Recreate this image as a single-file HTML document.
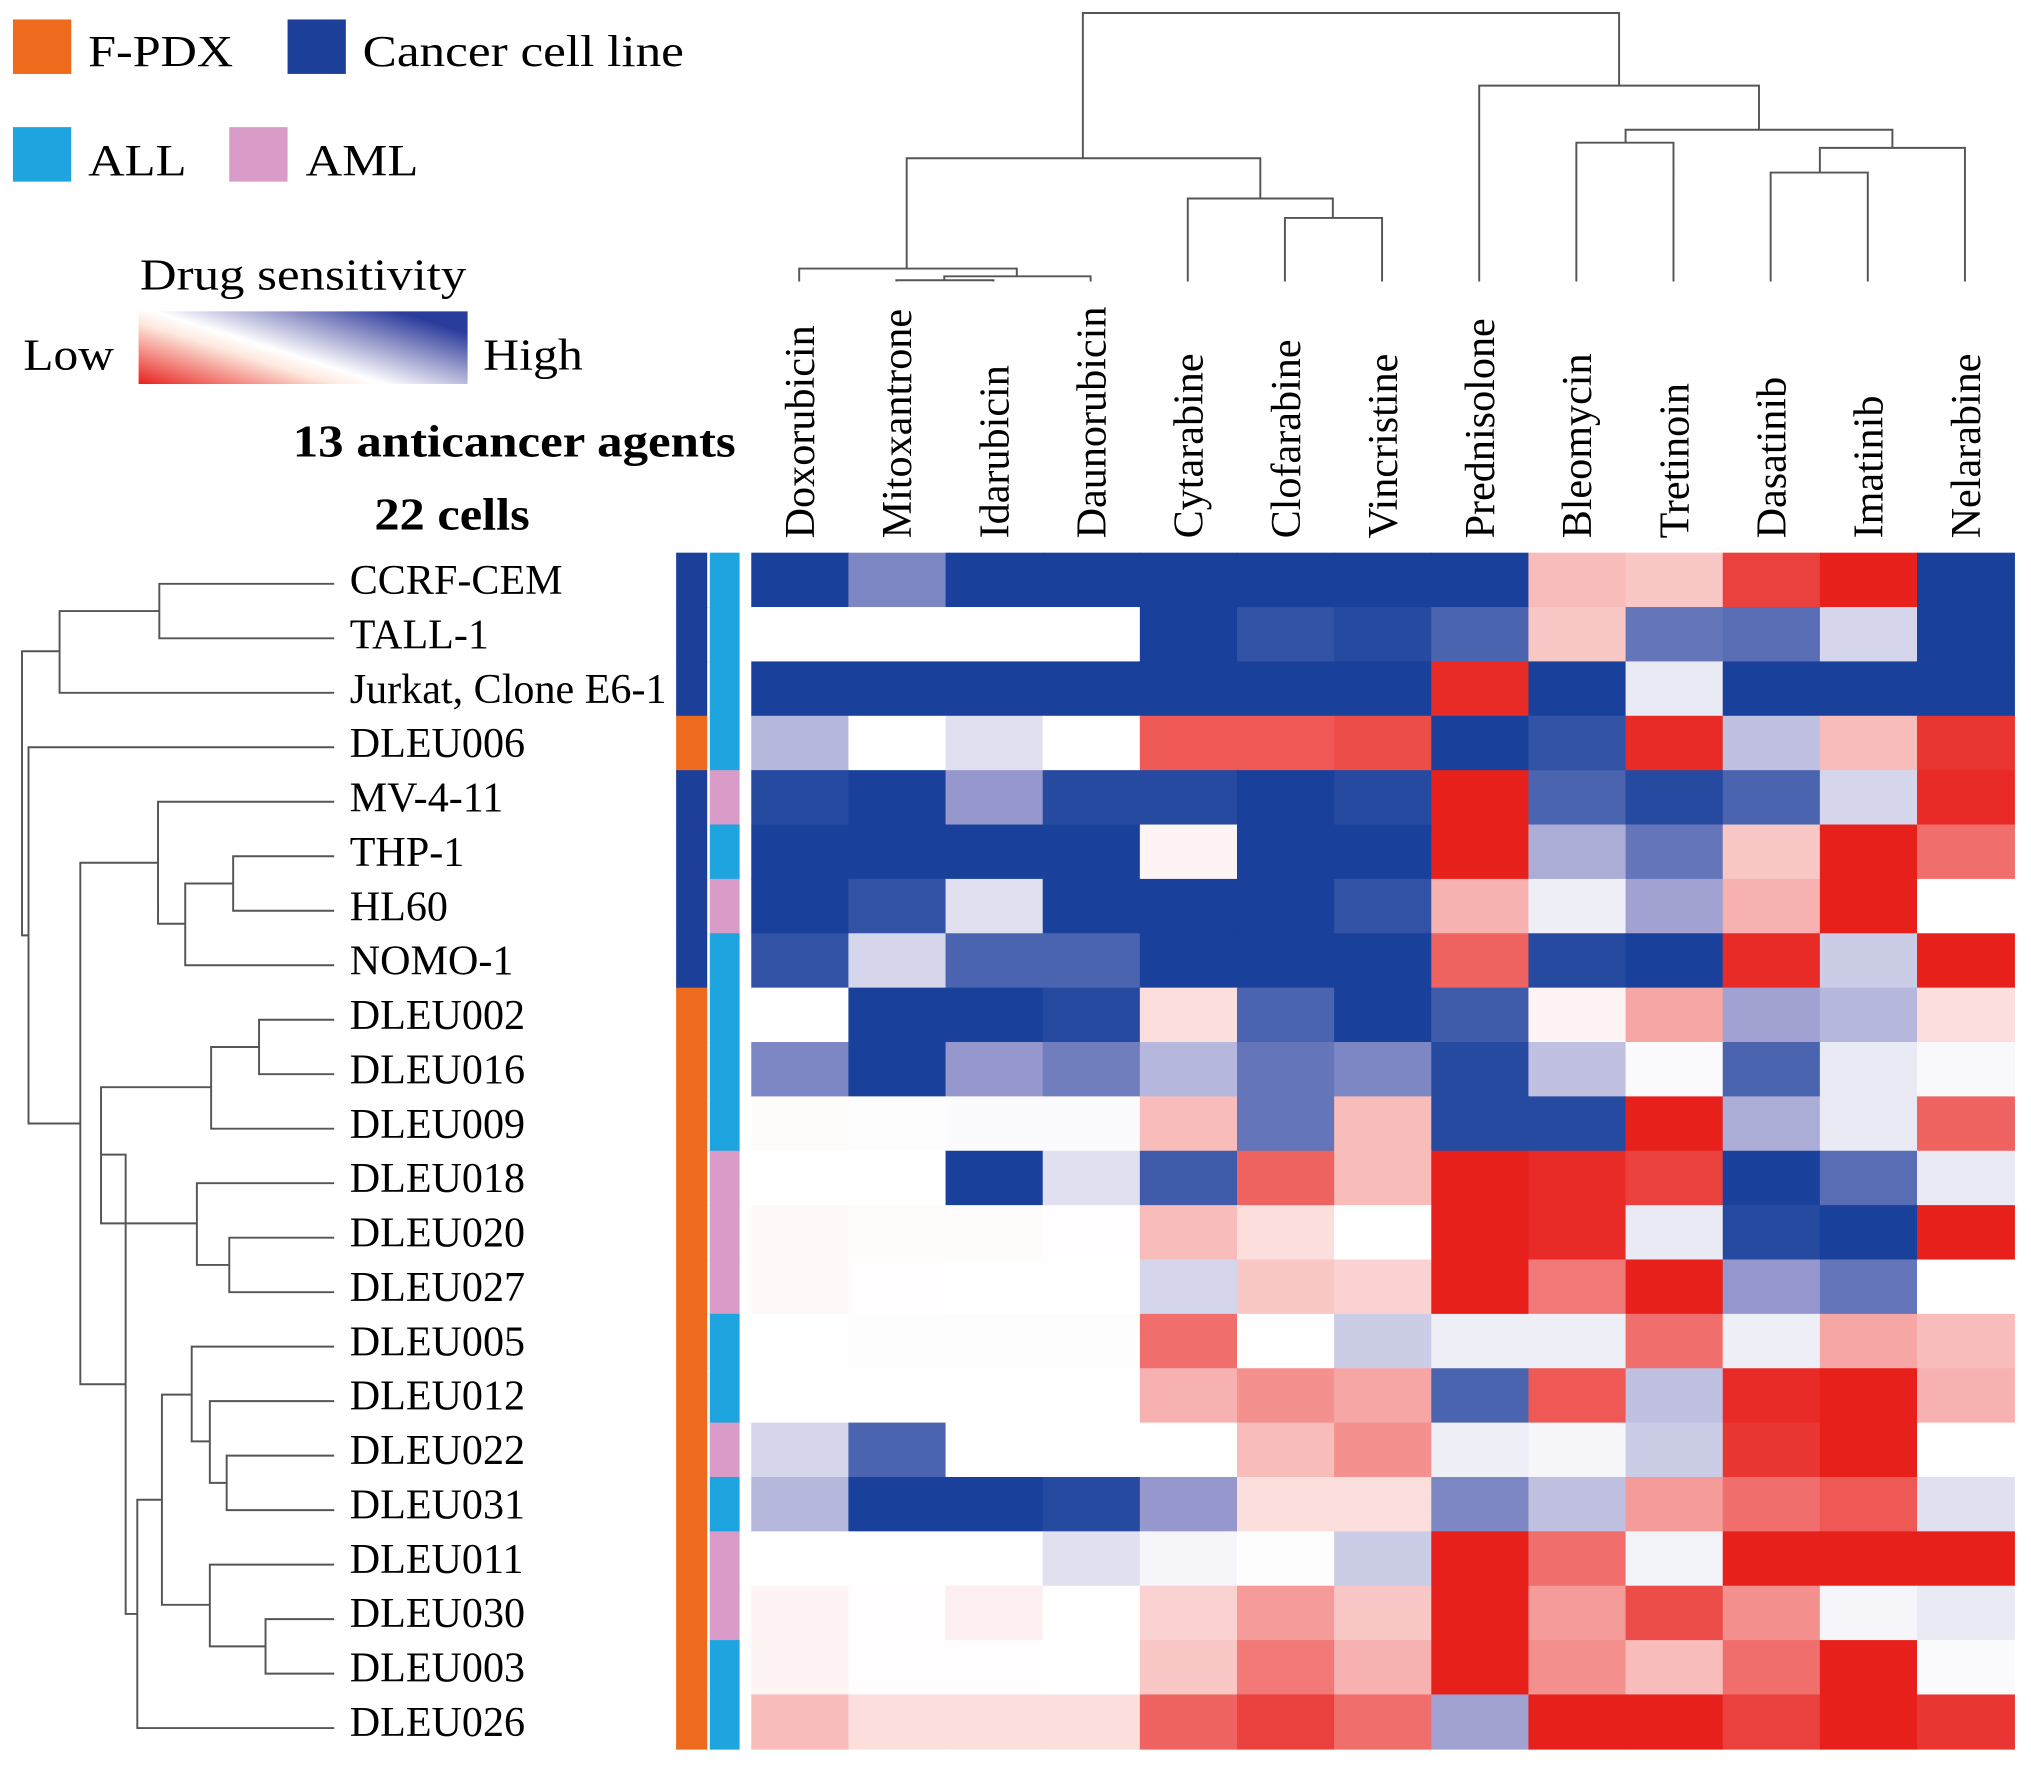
<!DOCTYPE html>
<html><head><meta charset="utf-8"><style>
html,body{margin:0;padding:0;background:#fff;}
svg{display:block;font-family:"Liberation Serif",serif;}
</style></head><body>
<svg id="chart" width="2031" height="1767" viewBox="0 0 1568 1362" preserveAspectRatio="none" xmlns="http://www.w3.org/2000/svg">
<defs>
<linearGradient id="grad" x1="0" y1="1" x2="1" y2="0.3">
<stop offset="0" stop-color="#e8201c"/><stop offset="0.4" stop-color="#fde9df"/><stop offset="0.5" stop-color="#ffffff"/><stop offset="0.75" stop-color="#9a9ccc"/><stop offset="1" stop-color="#2a3c9c"/>
</linearGradient>
</defs>
<g>
<rect x="10" y="15" width="45" height="42" fill="#ee6a1c"/>
<text x="68" y="51" font-size="34" textLength="112" lengthAdjust="spacingAndGlyphs">F-PDX</text>
<rect x="222" y="15" width="45" height="42" fill="#1c3f9a"/>
<text x="280" y="51" font-size="34" textLength="248" lengthAdjust="spacingAndGlyphs">Cancer cell line</text>
<rect x="10" y="98" width="45" height="42" fill="#1ea5e0"/>
<text x="68" y="135" font-size="34" textLength="76" lengthAdjust="spacingAndGlyphs">ALL</text>
<rect x="177" y="98" width="45" height="42" fill="#d99cc8"/>
<text x="236" y="135" font-size="34" textLength="87" lengthAdjust="spacingAndGlyphs">AML</text>
<text x="108" y="223" font-size="34" textLength="252" lengthAdjust="spacingAndGlyphs">Drug sensitivity</text>
<text x="18" y="285" font-size="34" textLength="70" lengthAdjust="spacingAndGlyphs">Low</text>
<rect x="107" y="240" width="254" height="56" fill="url(#grad)"/>
<text x="373" y="285" font-size="34" textLength="77" lengthAdjust="spacingAndGlyphs">High</text>
</g>
<text x="226" y="352" font-size="35" font-weight="bold" textLength="342" lengthAdjust="spacingAndGlyphs">13 anticancer agents</text>
<text x="289" y="408" font-size="35" font-weight="bold" textLength="120" lengthAdjust="spacingAndGlyphs">22 cells</text>
<g id="top-dendro" fill="none" stroke="#555" stroke-width="1.5">
<path d="M692 217V216H767V217 M729 216V213H842V217 M617 217V207H785V213 M992 217V168H1067V217 M917 217V153H1029V168 M700 207V122H973V153 M1367 217V133H1442V217 M1405 133V114H1517V217 M1217 217V110H1292V217 M1255 110V100H1461V114 M1142 217V66H1358V100 M836 122V10H1250V66"/>
</g>
<g id="left-dendro" fill="none" stroke="#555" stroke-width="1.5">
<path d="M258 450H123V492H258 M123 471H46V534H258 M258 660H180V702H258 M180 681H143V744H258 M143 712H122V618H258 M258 786H200V828H258 M200 807H163V870H258 M258 954H177V996H258 M177 975H152V912H258 M163 838H78V943H152 M258 1248H205V1290H258 M205 1269H162V1206H258 M258 1122H175V1164H258 M175 1143H162V1080H258 M162 1111H148V1038H258 M148 1075H125V1237H162 M125 1156H106V1332H258 M78 890H97V1244H106 M97 1067H62V665H122 M62 866H22V576H258 M22 721H17V502H46"/>
</g>
<g id="heat"></g>
</svg>
<script>
const drugs=["Doxorubicin","Mitoxantrone","Idarubicin","Daunorubicin","Cytarabine","Clofarabine","Vincristine","Prednisolone","Bleomycin","Tretinoin","Dasatinib","Imatinib","Nelarabine"];
const cells=["CCRF-CEM","TALL-1","Jurkat, Clone E6-1","DLEU006","MV-4-11","THP-1","HL60","NOMO-1","DLEU002","DLEU016","DLEU009","DLEU018","DLEU020","DLEU027","DLEU005","DLEU012","DLEU022","DLEU031","DLEU011","DLEU030","DLEU003","DLEU026"];
const sourceType=["C","C","C","P","C","C","C","C","P","P","P","P","P","P","P","P","P","P","P","P","P","P"];
const subtype=["ALL","ALL","ALL","ALL","AML","ALL","AML","ALL","ALL","ALL","ALL","AML","AML","AML","ALL","ALL","AML","ALL","AML","AML","ALL","ALL"];
const sensitivity=[
[1,0.6,1,1,1,1,1,1,-0.3,-0.25,-0.85,-1,1],
[0,0,0,0,1,0.9,0.95,0.8,-0.25,0.7,0.75,0.2,1],
[1,1,1,1,1,1,1,-0.95,1,0.1,1,1,1],
[0.35,0,0.15,0,-0.75,-0.75,-0.8,1,0.9,-0.95,0.3,-0.3,-0.9],
[0.95,1,0.5,0.95,0.95,1,0.95,-1,0.8,0.95,0.8,0.2,-0.95],
[1,1,1,1,-0.05,1,1,-1,0.4,0.7,-0.25,-1,-0.65],
[1,0.9,0.15,1,1,1,0.9,-0.35,0.08,0.45,-0.35,-1,0],
[0.9,0.2,0.8,0.8,1,1,1,-0.7,0.95,1,-0.95,0.25,-1],
[0,1,1,0.95,-0.15,0.8,1,0.85,-0.05,-0.4,0.45,0.35,-0.15],
[0.6,1,0.5,0.65,0.35,0.7,0.6,0.95,0.3,0.02,0.8,0.1,0.03],
[-0.02,0.01,0.02,0.02,-0.3,0.7,-0.3,0.95,0.95,-1,0.4,0.1,-0.7],
[0,0,1,0.15,0.85,-0.7,-0.3,-1,-0.95,-0.85,1,0.75,0.1],
[-0.03,-0.02,-0.02,-0.01,-0.3,-0.15,0,-1,-0.95,0.1,0.95,1,-1],
[-0.03,-0.01,0,0,0.2,-0.25,-0.2,-1,-0.6,-1,0.5,0.7,0],
[0,0.01,0.01,0.01,-0.65,0,0.25,0.08,0.08,-0.65,0.08,-0.4,-0.3],
[0,0,0,0,-0.35,-0.5,-0.4,0.8,-0.75,0.3,-0.95,-1,-0.35],
[0.2,0.8,0,0,0,-0.3,-0.5,0.08,0.04,0.25,-0.9,-1,0],
[0.35,1,1,0.95,0.5,-0.15,-0.15,0.6,0.3,-0.45,-0.65,-0.75,0.15],
[0,0,0,0.15,0.05,0.01,0.25,-1,-0.65,0.06,-1,-1,-1],
[-0.05,-0.01,-0.07,0,-0.2,-0.45,-0.25,-1,-0.45,-0.8,-0.5,0.05,0.1],
[-0.05,-0.01,-0.01,0,-0.25,-0.6,-0.35,-1,-0.5,-0.3,-0.65,-1,0.02],
[-0.3,-0.15,-0.15,-0.15,-0.7,-0.85,-0.65,0.45,-1,-1,-0.85,-1,-0.9]
];
const NS="http://www.w3.org/2000/svg";
const g=document.getElementById("heat");
const X0=580,X1=1555,Y0=426,Y1=1348;
const cw=(X1-X0)/drugs.length, rh=(Y1-Y0)/cells.length;
function xPos(i){return X0+i*cw;}
function yPos(j){return Y0+j*rh;}
function lerp(a,b,t){return a.map((x,k)=>x+(b[k]-x)*t);}
function color(v){
  const w=[255,255,255],mid=[150,152,205],blue=[25,65,155],red=[232,32,28];
  const t=Math.min(1,Math.abs(v));
  let c;
  if(v>=0){c=t<0.5?lerp(w,mid,t/0.5):lerp(mid,blue,(t-0.5)/0.5);}
  else c=lerp(w,red,t);
  return "rgb("+c.map(Math.round).join(",")+")";
}
function mk(tag,attrs){const e=document.createElementNS(NS,tag);for(const k in attrs)e.setAttribute(k,attrs[k]);return e;}
cells.forEach((name,j)=>{
  sensitivity[j].forEach((v,i)=>{
    const r=mk("rect",{x:xPos(i),y:yPos(j),width:cw+0.6,height:rh+0.6,fill:color(v)});
    
    
    g.appendChild(r);
  });
  const t=mk("rect",{x:522,y:yPos(j),width:24,height:rh+0.6,fill:sourceType[j]==="P"?"#ee6a1c":"#1c3f9a"});
  
  
  g.appendChild(t);
  const s=mk("rect",{x:548,y:yPos(j),width:23,height:rh+0.6,fill:subtype[j]==="AML"?"#d99cc8":"#1ea5e0"});
  
  
  g.appendChild(s);
  const lb=mk("text",{x:270,y:yPos(j)+rh/2+11,"font-size":32.5});
  lb.textContent=name;
  
  
  g.appendChild(lb);
});
drugs.forEach((d,i)=>{
  const cx=xPos(i)+cw/2+11;
  const t=mk("text",{x:cx,y:415,"font-size":32.5,"text-anchor":"start",transform:"rotate(-90 "+cx+" 415)"});
  t.textContent=d;
  
  
  g.appendChild(t);
});
</script>
</body></html>
